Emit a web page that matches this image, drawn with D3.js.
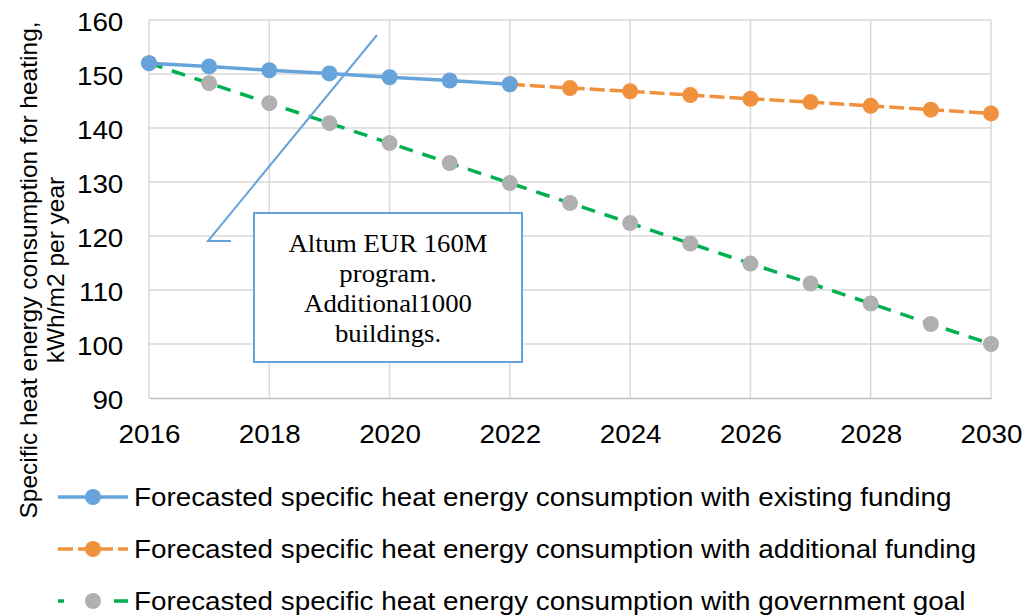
<!DOCTYPE html>
<head>
    <script src="https://d3js.org/d3.v7.min.js"></script>
    <style>
        body{ margin: 0; background: #fff; }
        svg{ display: block; }
        .tick text{ font-family: Arial, "Liberation Sans", sans-serif; }
    </style>
</head>
<body>
    <svg id="chart" width="1034" height="616"></svg>
    <script>
        // Data
        var yearsExisting = [2016, 2017, 2018, 2019, 2020, 2021, 2022];
        var existingFunding = [152, 151.4, 150.7, 150.1, 149.4, 148.8, 148.1];

        var yearsAdditional = [2022, 2023, 2024, 2025, 2026, 2027, 2028, 2029, 2030];
        var additionalFunding = [148.1, 147.4, 146.8, 146.1, 145.4, 144.8, 144.1, 143.4, 142.7];

        var yearsGoal = [2016, 2017, 2018, 2019, 2020, 2021, 2022, 2023, 2024, 2025, 2026, 2027, 2028, 2029, 2030];
        var governmentGoal = [152, 148.3, 144.6, 140.9, 137.2, 133.5, 129.8, 126.1, 122.4, 118.6, 114.9, 111.2, 107.5, 103.7, 100];

        var xTicks = [2016, 2018, 2020, 2022, 2024, 2026, 2028, 2030];
        var yTicks = [90, 100, 110, 120, 130, 140, 150, 160];

        var legendLabels = [
            "Forecasted specific heat energy consumption with existing funding",
            "Forecasted specific heat energy consumption with additional funding",
            "Forecasted specific heat energy consumption with government goal"
        ];
        var calloutLines = ["Altum EUR 160M", "program.", "Additional1000", "buildings."];

        var svg = d3.select("#chart");
        // note: "top" is taken by window.top, so plot* names
        var plotLeft = 149, plotRight = 991, plotTop = 20, plotBottom = 398;
        var stretch = "scale(1.07,1)"; // the picture is a bit wider than the text

        var x = d3.scaleLinear().domain([2016, 2030]).range([plotLeft, plotRight]);
        var y = d3.scaleLinear().domain([90, 160]).range([plotBottom, plotTop]);

        // gridlines
        svg.append("g").selectAll("line")
            .data(yTicks.slice(1))
            .enter().append("line")
            .attr("x1", plotLeft).attr("x2", plotRight)
            .attr("y1", d => y(d)).attr("y2", d => y(d))
            .style("stroke", "#d9d9d9").style("stroke-width", 1.5);
        svg.append("g").selectAll("line")
            .data(xTicks)
            .enter().append("line")
            .attr("x1", d => x(d)).attr("x2", d => x(d))
            .attr("y1", plotTop).attr("y2", plotBottom)
            .style("stroke", "#d9d9d9").style("stroke-width", 1.5);

        // axes
        var xAxis = svg.append("g")
            .attr("transform", "translate(0," + plotBottom + ")")
            .call(d3.axisBottom(x).tickValues(xTicks).tickFormat(d3.format("d")).tickSize(0).tickPadding(0));
        xAxis.select(".domain").style("stroke", "#bfbfbf").style("stroke-width", 1.5);
        xAxis.selectAll("text")
            .attr("dy", null).attr("y", 45)
            .attr("transform", stretch)
            .style("font-size", "26px").style("fill", "#000");

        var yAxis = svg.append("g")
            .attr("transform", "translate(" + plotLeft + ",0)")
            .call(d3.axisLeft(y).tickValues(yTicks).tickSize(0).tickPadding(24));
        yAxis.select(".domain").remove();
        yAxis.selectAll("text")
            .attr("dy", "0.4em")
            .attr("transform", stretch)
            .style("font-size", "26px").style("fill", "#000");

        // y axis title
        var yTitle = svg.append("text")
            .attr("transform", "translate(37,270) rotate(-90)")
            .attr("text-anchor", "middle")
            .style("font-family", "Arial, 'Liberation Sans', sans-serif")
            .style("font-size", "24.5px");
        yTitle.append("tspan").attr("x", 0).attr("dy", 0).text("Specific heat energy consumption for heating,");
        yTitle.append("tspan").attr("x", 0).attr("dy", 27).text("kWh/m2 per year");

        var series = [
            {years: yearsGoal, values: governmentGoal, line: "#00B050", dot: "#B0B0B0", dash: "14,10", legendDash: "6,50,14"},
            {years: yearsAdditional, values: additionalFunding, line: "#F0913D", dot: "#F0913D", dash: "15,5", legendDash: "15,5"},
            {years: yearsExisting, values: existingFunding, line: "#66A3DA", dot: "#66A3DA", dash: null, legendDash: null}
        ];

        var line = d3.line().x(d => x(d[0])).y(d => y(d[1]));

        series.forEach(function(s){
            var pts = s.years.map((yr, i) => [yr, s.values[i]]);
            svg.append("path")
                .datum(pts)
                .attr("d", line)
                .style("fill", "none")
                .style("stroke", s.line)
                .style("stroke-width", 3.5)
                .style("stroke-dasharray", s.dash);
            svg.append("g").selectAll("circle")
                .data(pts)
                .enter().append("circle")
                .attr("cx", d => x(d[0]))
                .attr("cy", d => y(d[1]))
                .attr("r", 8)
                .style("fill", s.dot);
        });

        // callout
        svg.append("polyline")
            .attr("points", "377,35 208,241 231,241")
            .style("fill", "none").style("stroke", "#66A3DA").style("stroke-width", 2);
        svg.append("rect")
            .attr("x", 254).attr("y", 213).attr("width", 268).attr("height", 149)
            .style("fill", "#fff").style("stroke", "#66A3DA").style("stroke-width", 2);
        svg.append("g").selectAll("text")
            .data(calloutLines)
            .enter().append("text")
            .attr("transform", (d, i) => "translate(388," + (252 + i * 30) + ") " + stretch)
            .attr("text-anchor", "middle")
            .style("font-family", "'Liberation Serif', 'Times New Roman', serif")
            .style("font-size", "25px")
            .text(d => d);

        // legend
        var legendSeries = [series[2], series[1], series[0]];
        var legend = svg.append("g").selectAll("g")
            .data(legendSeries)
            .enter().append("g")
            .attr("transform", (d, i) => "translate(0," + (497 + i * 52) + ")");
        legend.append("line")
            .attr("x1", 58).attr("x2", 128)
            .style("stroke", d => d.line).style("stroke-width", 3.5)
            .style("stroke-dasharray", d => d.legendDash);
        legend.append("circle")
            .attr("cx", 93).attr("r", 8)
            .style("fill", d => d.dot);
        legend.append("text")
            .attr("transform", "translate(134,9) " + stretch)
            .style("font-family", "Arial, 'Liberation Sans', sans-serif")
            .style("font-size", "26px")
            .text((d, i) => legendLabels[i]);
    </script>
</body>
</html>
